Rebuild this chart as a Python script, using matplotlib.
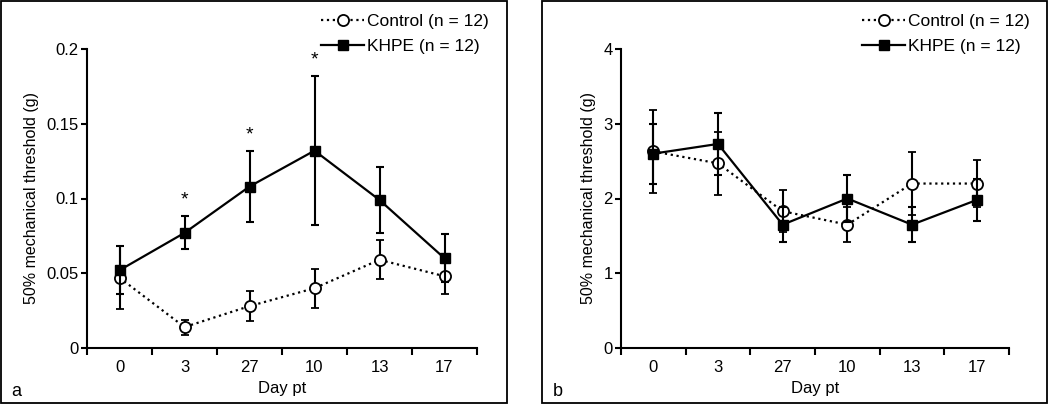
import matplotlib
matplotlib.use("Agg")
import matplotlib.pyplot as plt
from matplotlib.patches import Rectangle
import numpy as np

plt.rcParams['font.family'] = ['Liberation Sans', 'DejaVu Sans']

# --------------------------------------------------------
# Data
# --------------------------------------------------------
days = ["0", "3", "27", "10", "13", "17"]

# panel a
ctrl_a = [0.047, 0.014, 0.028, 0.040, 0.059, 0.048]
ctrl_a_err = [0.021, 0.005, 0.010, 0.013, 0.013, 0.012]
khpe_a = [0.052, 0.077, 0.108, 0.132, 0.099, 0.060]
khpe_a_err = [0.016, 0.011, 0.024, 0.050, 0.022, 0.016]
star_idx = [1, 2, 3]

# panel b
ctrl_b = [2.63, 2.47, 1.83, 1.65, 2.20, 2.20]
ctrl_b_err = [0.56, 0.42, 0.28, 0.23, 0.42, 0.32]
khpe_b = [2.60, 2.73, 1.65, 2.00, 1.65, 1.98]
khpe_b_err = [0.40, 0.42, 0.23, 0.32, 0.23, 0.28]

W, H = 1050, 404


def draw_panel(ax, ctrl, ctrl_err, khpe, khpe_err, ymax, yticks, yticklabels):
    x = np.arange(len(days))
    ax.errorbar(x, ctrl, yerr=ctrl_err, color='black', linestyle=':', linewidth=1.6,
                marker='o', markersize=8, markerfacecolor='white', markeredgecolor='black',
                markeredgewidth=1.3, elinewidth=1.5, capsize=3, capthick=1.5,
                label="Control (n = 12)", zorder=3)
    ax.errorbar(x, khpe, yerr=khpe_err, color='black', linestyle='-', linewidth=1.6,
                marker='s', markersize=7, markerfacecolor='black', markeredgecolor='black',
                elinewidth=1.5, capsize=3, capthick=1.5,
                label="KHPE (n = 12)", zorder=4)

    ax.set_xlim(-0.5, len(days) - 0.5)
    ax.set_ylim(0, ymax)
    # tick marks sit between the days, labels sit on the days
    ax.set_xticks(np.arange(-0.5, len(days), 1.0))
    ax.set_xticklabels([])
    ax.set_xticks(x, minor=True)
    ax.set_xticklabels(days, minor=True, fontsize=12)
    ax.tick_params(axis='x', which='major', direction='out', length=5, width=1.5)
    ax.tick_params(axis='x', which='minor', length=0, pad=9)
    ax.set_yticks(yticks)
    ax.set_yticklabels(yticklabels, fontsize=12)
    ax.tick_params(axis='y', direction='out', length=4, width=1.5, pad=2)

    for s in ['top', 'right']:
        ax.spines[s].set_visible(False)
    for s in ['left', 'bottom']:
        ax.spines[s].set_linewidth(1.5)

    ax.set_xlabel("Day pt", fontsize=12, labelpad=4)
    ax.set_ylabel("50% mechanical threshold (g)", fontsize=11.5, labelpad=5)
    ax.patch.set_alpha(0)


fig = plt.figure(figsize=(W / 100, H / 100), dpi=100)
fig.patch.set_facecolor('white')

# panel borders
for x0, x1 in [(1, 507), (542, 1047)]:
    fig.patches.append(Rectangle((x0 / W, 1 / H), (x1 - x0) / W, (H - 2) / H,
                                 transform=fig.transFigure, fill=False,
                                 edgecolor='black', linewidth=1.3))

ax_a = fig.add_axes([87 / W, 56 / H, 390 / W, 299 / H])
draw_panel(ax_a, ctrl_a, ctrl_a_err, khpe_a, khpe_a_err, 0.2,
           [0, 0.05, 0.1, 0.15, 0.2], ["0", "0.05", "0.1", "0.15", "0.2"])
for i in star_idx:
    ax_a.text(i, khpe_a[i] + khpe_a_err[i] + 0.005, "*", ha='center', va='bottom', fontsize=14)

ax_b = fig.add_axes([621 / W, 56 / H, 388 / W, 299 / H])
draw_panel(ax_b, ctrl_b, ctrl_b_err, khpe_b, khpe_b_err, 4,
           [0, 1, 2, 3, 4], ["0", "1", "2", "3", "4"])

for ax, lx in [(ax_a, 321), (ax_b, 862)]:
    h, l = ax.get_legend_handles_labels()
    h = [hh[0] for hh in h]
    fig.legend(h, l, loc='upper left', bbox_to_anchor=(lx / W, 1 - 14 / H),
               frameon=False, fontsize=12.5, handlelength=2.5, handletextpad=0.15,
               labelspacing=0.55, borderaxespad=0, borderpad=0)

fig.text(11 / W, 1 - 392 / H, "a", fontsize=13, va='center', ha='left')
fig.text(553 / W, 1 - 392 / H, "b", fontsize=13, va='center', ha='left')

fig.savefig("out.png", dpi=100)
